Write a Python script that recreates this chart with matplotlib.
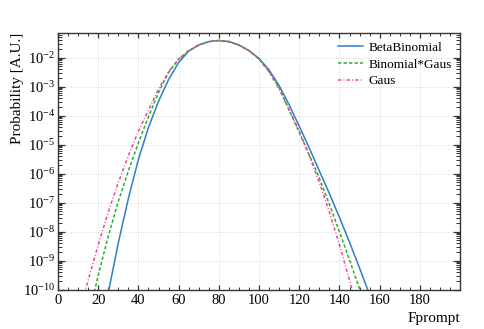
import matplotlib
matplotlib.use("Agg")
import matplotlib.pyplot as plt
from matplotlib.ticker import MultipleLocator, LogLocator, NullFormatter

# values (Fprompt vs probability), every 5 units
beta_x = [20, 25, 30, 35, 40, 45, 50, 55, 60, 65, 70, 75, 80,
          85, 90, 95, 100, 105, 110, 115, 120, 125, 130, 135, 140, 145, 150, 155, 160]
beta_y = [9.77e-13, 7.76e-11, 4.07e-9, 1.38e-7, 3.09e-6, 3.89e-5, 3.09e-4, 1.74e-3,
          6.76e-3, 1.66e-2, 2.71e-2, 3.556e-2, 3.89e-2,
          3.556e-2, 2.71e-2, 1.738e-2, 9.33e-3, 3.72e-3, 1.07e-3, 2.34e-4, 4.27e-5,
          7.59e-6, 1.23e-6, 2.04e-7, 3.09e-8, 4.27e-9, 5.50e-10, 6.61e-11, 7.76e-12]

bingaus_x = [15, 20, 25, 30, 35, 40, 45, 50, 55, 60, 65, 70, 75, 80,
             85, 90, 95, 100, 105, 110, 115, 120, 125, 130, 135, 140, 145, 150, 155]
bingaus_y = [9.8e-12, 3.09e-10, 6.92e-9, 1.10e-7, 1.23e-6, 1.15e-5, 9.12e-5, 6.17e-4,
             3.09e-3, 8.85e-3, 1.726e-2, 2.71e-2, 3.556e-2, 3.89e-2,
             3.556e-2, 2.71e-2, 1.726e-2, 8.85e-3, 3.31e-3, 9.12e-4, 1.55e-4, 2.57e-5,
             4.37e-6, 6.92e-7, 8.71e-8, 9.77e-9, 1.05e-9, 1.07e-10, 1.05e-11]

gaus_x = [10, 15, 20, 25, 30, 35, 40, 45, 50, 55, 60, 65, 70, 75, 80,
          85, 90, 95, 100, 105, 110, 115, 120, 125, 130, 135, 140, 145, 150]
gaus_y = [9.8e-12, 2.09e-10, 3.47e-9, 4.68e-8, 4.90e-7, 4.17e-6, 2.88e-5, 1.55e-4,
          8.26e-4, 3.21e-3, 8.85e-3, 1.726e-2, 2.71e-2, 3.556e-2, 3.89e-2,
          3.556e-2, 2.71e-2, 1.726e-2, 8.85e-3, 3.21e-3, 8.26e-4, 1.55e-4, 2.88e-5,
          4.17e-6, 4.90e-7, 4.68e-8, 3.47e-9, 2.09e-10, 9.8e-12]

x_ticks = list(range(0, 200, 20))

plt.rcParams["font.family"] = ["Liberation Serif", "DejaVu Serif"]
plt.rcParams["mathtext.fontset"] = "stix"

fig = plt.figure(figsize=(4.85, 3.29), dpi=100)
ax = fig.add_axes([0.1196, 0.12, 0.829, 0.78])

ax.plot(beta_x, beta_y, color="#2f7fc1", lw=1.1, label="BetaBinomial")
ax.plot(bingaus_x, bingaus_y, color="#2ab02a", lw=1.1, ls=(0, (2.2, 1.4)),
        label="Binomial*Gaus")
ax.plot(gaus_x, gaus_y, color="#f0449a", lw=1.1, ls=(0, (2.2, 1.4, 0.6, 1.4)),
        label="Gaus")

ax.set_yscale("log")
ax.set_xlim(0, 200)
ax.set_ylim(1e-10, 0.071)

ax.set_xticks(x_ticks)
ax.xaxis.set_minor_locator(MultipleLocator(5))
ax.yaxis.set_major_locator(LogLocator(base=10, numticks=30))
ax.yaxis.set_minor_locator(LogLocator(base=10, subs=range(2, 10), numticks=30))
ax.yaxis.set_minor_formatter(NullFormatter())

ax.tick_params(which="both", direction="in", top=True, right=True,
               colors="#333333", labelcolor="black", labelsize=10.5)
ax.tick_params(axis="x", which="major", length=3.8, width=0.9)
ax.tick_params(axis="x", which="minor", length=2.2, width=0.7)
ax.tick_params(axis="y", which="major", length=5.2, width=0.9, pad=2)
ax.tick_params(axis="y", which="minor", length=2.9, width=0.7)
for sp in ax.spines.values():
    sp.set_linewidth(1.0)
    sp.set_color("#333333")

ax.grid(True, which="major", ls=(0, (1, 2)), color="#cccccc", lw=0.6)

ax.set_xlabel("Fprompt", fontsize=11, loc="right")
ax.xaxis.set_label_coords(1.0, -0.088)
ax.set_ylabel("Probability [A.U.]", fontsize=11, loc="top")
ax.yaxis.set_label_coords(-0.085, 1.0)

ax.legend(loc="upper right", bbox_to_anchor=(1.0, 1.0), frameon=False,
          fontsize=9.5, handlelength=1.9, handletextpad=0.4, labelspacing=0.35,
          borderaxespad=0.25)

fig.savefig("out.png", dpi=100)
